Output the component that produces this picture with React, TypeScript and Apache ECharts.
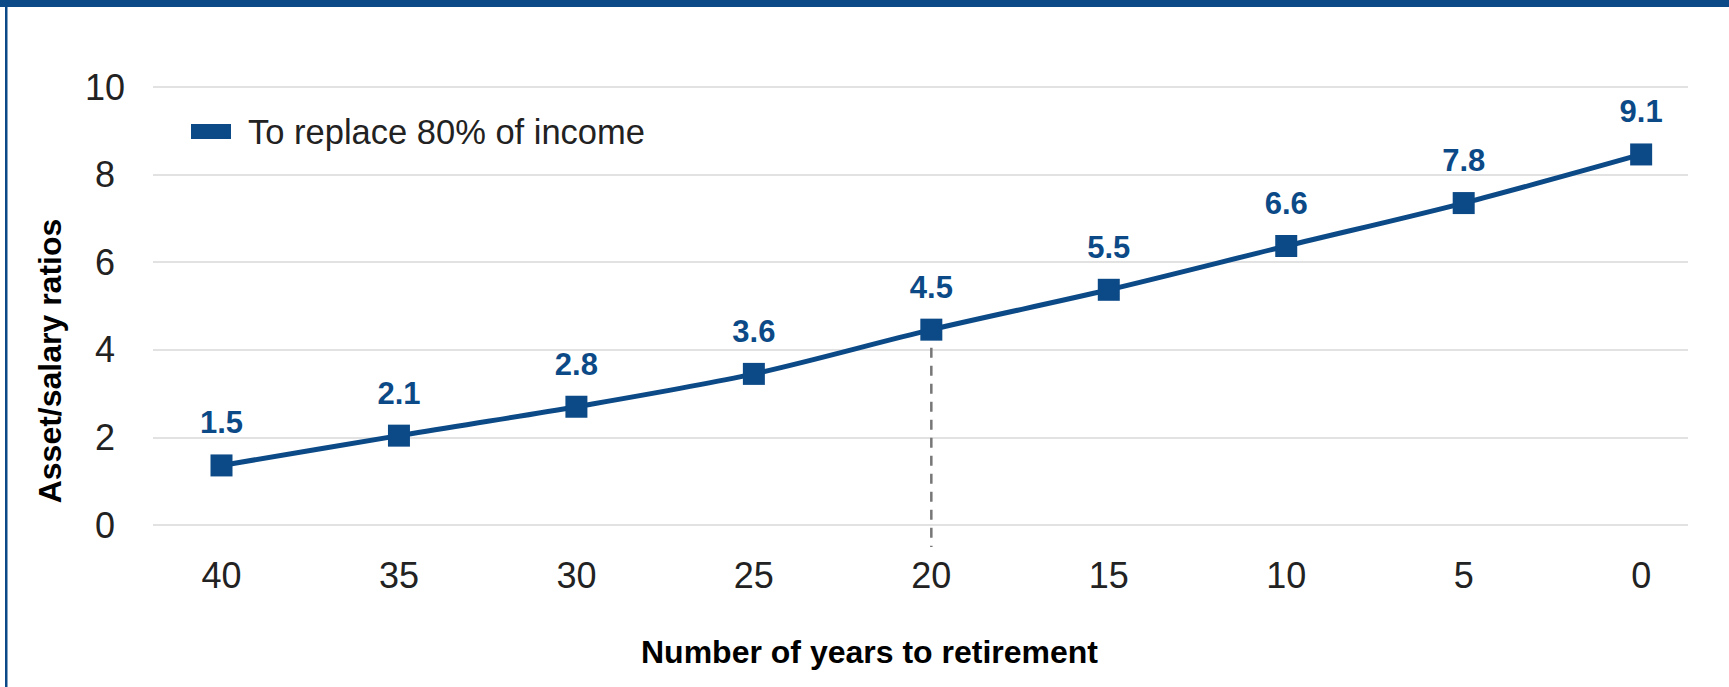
import React, { useEffect, useRef } from "react";
import * as echarts from "echarts";

const years = [40, 35, 30, 25, 20, 15, 10, 5, 0];
const plotted = [1.36, 2.04, 2.7, 3.45, 4.46, 5.37, 6.37, 7.35, 8.46];
const labels = ["1.5", "2.1", "2.8", "3.6", "4.5", "5.5", "6.6", "7.8", "9.1"];
const yTicks = [0, 2, 4, 6, 8, 10];
const seriesName = "To replace 80% of income";
const highlightYear = 20;
const dropTo = -0.5;

const BLUE = "#0c4a87";
const FONT = "'Liberation Sans', Arial, sans-serif";

export default function App() {
  const ref = useRef<HTMLDivElement>(null);
  useEffect(() => {
    if (!ref.current) return;
    const chart = echarts.init(ref.current, null, { renderer: "svg" });
    const hiIdx = years.indexOf(highlightYear);
    const baseGraphic: any[] = [
      { id: "topBar", type: "rect", left: 0, top: 0, shape: { width: 1729, height: 7 }, style: { fill: BLUE } },
      { id: "leftBar", type: "rect", left: 5, top: 0, shape: { width: 2.5, height: 687 }, style: { fill: BLUE } },
      {
        id: "xTitle",
        type: "text",
        left: 641,
        top: 636,
        style: { text: "Number of years to retirement", fontSize: 32, fontWeight: "bold", fill: "#000", fontFamily: FONT },
      },
      {
        id: "yTitle",
        type: "text",
        x: 50,
        y: 361,
        rotation: Math.PI / 2,
        style: {
          text: "Asset/salary ratios",
          fontSize: 32,
          fontWeight: "bold",
          fill: "#000",
          fontFamily: FONT,
          align: "center",
          verticalAlign: "middle",
        },
      },
    ];
    chart.setOption({
      animation: false,
      backgroundColor: "#fff",
      textStyle: { fontFamily: FONT },
      grid: { left: 153, right: 41, top: 87, height: 438, containLabel: false },
      legend: {
        left: 186,
        top: 109,
        icon: "rect",
        itemWidth: 40,
        itemHeight: 15,
        textStyle: { fontSize: 34.5, color: "#222", fontFamily: FONT, padding: [0, 0, 0, 12] },
        data: [seriesName],
      },
      xAxis: {
        type: "value",
        inverse: true,
        min: -1.32,
        max: 41.93,
        axisLine: { show: false },
        axisTick: { show: false },
        splitLine: { show: false },
        axisLabel: {
          customValues: years,
          fontSize: 36,
          color: "#222",
          margin: 32,
          fontFamily: FONT,
        },
      },
      yAxis: {
        type: "value",
        min: yTicks[0],
        max: yTicks[yTicks.length - 1],
        interval: 2,
        axisLine: { show: false },
        axisTick: { show: false },
        splitLine: { lineStyle: { color: "#d9d9d9", width: 1.5 } },
        axisLabel: {
          fontSize: 36,
          color: "#222",
          align: "center",
          margin: 48,
          fontFamily: FONT,
        },
      },
      series: [
        {
          name: seriesName,
          type: "line",
          smooth: 0.3,
          data: years.map((y, i) => [y, plotted[i]]),
          symbol: "rect",
          symbolSize: 22,
          itemStyle: { color: BLUE },
          lineStyle: { color: BLUE, width: 5 },
          label: {
            show: true,
            position: "top",
            distance: 16,
            fontSize: 31,
            fontWeight: "bold",
            color: BLUE,
            fontFamily: FONT,
            formatter: (p: any) => labels[p.dataIndex],
          },
          z: 3,
        },
      ],
      graphic: baseGraphic,
    });
    const p1 = chart.convertToPixel({ gridIndex: 0 }, [highlightYear, plotted[hiIdx]]);
    const p2 = chart.convertToPixel({ gridIndex: 0 }, [highlightYear, dropTo]);
    chart.setOption({
      graphic: [
        ...baseGraphic,
        {
          id: "dropLine",
          type: "line",
          z: 1,
          shape: { x1: p1[0], y1: p1[1], x2: p2[0], y2: p2[1] },
          style: { stroke: "#777777", lineWidth: 2.5, lineDash: [10, 8] },
        },
      ],
    });
    return () => chart.dispose();
  }, []);
  return <div ref={ref} style={{ position: "fixed", left: 0, top: 0, width: 1729, height: 687 }} />;
}
